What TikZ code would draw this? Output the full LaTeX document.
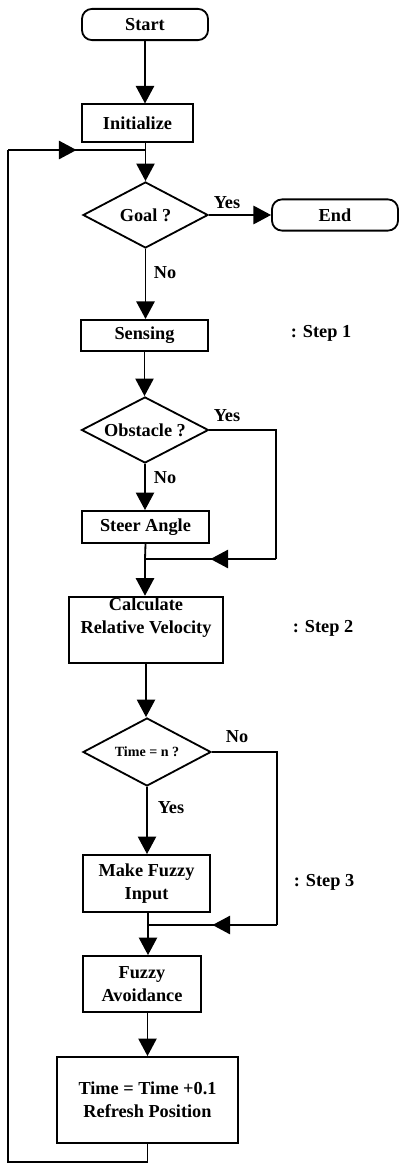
\documentclass[tikz,border=0pt]{standalone}
\usepackage{fontspec}
\setmainfont{Liberation Serif}
\usetikzlibrary{shapes.geometric,arrows.meta,decorations.markings}

\begin{document}
\begin{tikzpicture}[x=0.025cm,y=-0.025cm,line width=1.3pt]
\tikzstyle{every node}=[font=\bfseries\fontsize{13}{16.5}\selectfont,inner sep=1pt,align=center];
\tikzstyle{box}=[draw,rectangle];
\tikzstyle{term}=[draw,rectangle,rounded corners=0.25cm,minimum width=3.15cm,minimum height=0.78cm];
\tikzstyle{decision}=[draw,diamond,aspect=1.9,inner sep=0pt];
\tikzstyle{arr}=[-{Triangle[length=12.5pt,width=13pt]}];
\tikzstyle{midarr}=[postaction={decorate},decoration={markings,mark=at position 0.5 with {\arrow{Triangle[length=12.5pt,width=13pt]}}}];

\useasboundingbox (0,0) rectangle (400,1164);

\node[term] (start) at (145,24.5) {Start};
\node[box,minimum width=2.78cm,minimum height=0.93cm] (init) at (137.5,123) {Initialize};
\node[decision,minimum width=3.125cm,minimum height=1.65cm] (goal) at (145.5,215) {Goal ?};
\node[term] (end) at (335,215) {End};
\node[box,minimum width=3.175cm,minimum height=0.78cm] (sense) at (144.5,335.5) {Sensing};
\node[decision,minimum width=3.175cm,minimum height=1.65cm] (obst) at (145,430) {Obstacle ?};
\node[box,minimum width=3.175cm,minimum height=0.8cm] (steer) at (145.5,527) {Steer Angle};
\node[box,minimum width=3.85cm,minimum height=1.6cm,text depth=0.7cm] (calc) at (146,630) {Calculate\\Relative Velocity};
\node[decision,minimum width=3.2cm,minimum height=1.7cm,font=\bfseries\fontsize{10}{12}\selectfont] (timen) at (147,752) {Time = n ?};
\node[box,minimum width=3.175cm,minimum height=1.425cm] (fin) at (146.5,883.5) {Make Fuzzy\\Input};
\node[box,minimum width=2.95cm,minimum height=1.4cm] (favoid) at (142,984) {Fuzzy\\Avoidance};
\node[box,minimum width=4.525cm,minimum height=2.15cm] (refresh) at (147.5,1100) {Time = Time +0.1\\Refresh Position};

\node (step1) at (321,333) {: Step 1};
\node (step2) at (323,628) {: Step 2};
\node (step3) at (324,882) {: Step 3};

\node (gyes) at (227,203) {Yes};
\node (gno) at (165,273) {No};
\node (oyes) at (227,416) {Yes};
\node (ono) at (165,478) {No};
\node (tno) at (237,737) {No};
\node (tyes) at (171,808) {Yes};

\coordinate (m1) at (145,559);
\coordinate (r1) at (276,559);
\coordinate (m2) at (148,925);
\coordinate (r2) at (277,925);
\coordinate (lb) at (8,1162);
\coordinate (lt) at (8,150);
\coordinate (j0) at (145,150);

\draw[arr] (start) -- (start |- init.north);
\draw[arr] (init.south -| goal.north) -- (goal.north);
\draw[arr] (goal.east) -- (end.west);
\draw[arr] (goal.south) -- (goal.south |- sense.north);
\draw[arr] (sense.south) -- (sense.south |- obst.north);
\draw[arr] (obst.south) -- (obst.south |- steer.north);
\draw (obst.east) -| (r1);
\draw[midarr] (r1) -- (m1);
\draw (steer.south) -- (m1);
\draw[arr] (m1) -- (m1 |- calc.north);
\draw[arr] (calc.south) -- (calc.south |- timen.north);
\draw[arr] (timen.south) -- (timen.south |- fin.north);
\draw (timen.east) -| (r2);
\draw[midarr] (r2) -- (m2);
\draw (fin.south -| m2) -- (m2);
\draw[arr] (m2) -- (m2 |- favoid.north);
\draw[arr] (refresh.north |- favoid.south) -- (refresh.north);
\draw (refresh.south) |- (lb) -- (lt);
\draw[midarr] (lt) -- (j0);
\end{tikzpicture}
\end{document}
